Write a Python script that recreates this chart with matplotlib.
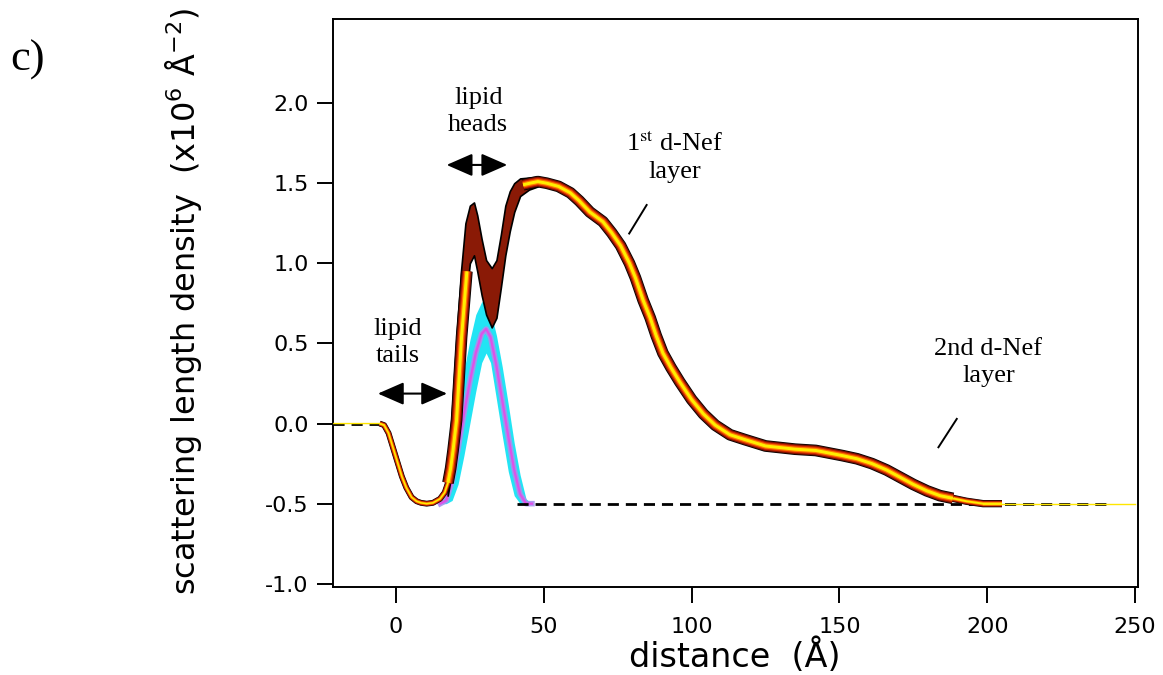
import numpy as np
import matplotlib
matplotlib.use('Agg')
import matplotlib.pyplot as plt

plt.rcParams['axes.unicode_minus'] = False
plt.rcParams['font.family'] = ['DejaVu Sans']

# total SLD profile (median of the ensemble), distance in A, SLD in 1e-6 A^-2
sld_x = [-21, -5.5, -4, -2.5, -1, 0.5, 2, 3.5, 5.3, 7, 8.5, 10.4, 12.5, 14.9, 16.5,
         17.6, 18.5, 19.3, 20.5, 22.2, 24, 25.3, 26.4, 27.5, 29, 30.5, 32.4, 34, 36.3,
         38, 39.5, 40.8, 43, 45.3, 48, 51, 55, 59, 62, 65.6, 70, 73, 76, 79, 81, 83.6,
         86, 88, 90.3, 93, 96, 100, 104, 108, 113, 118, 125, 135, 142, 151, 156, 161,
         166, 170.5, 175, 179.6, 184, 188.4, 193, 198.6, 205, 215, 250]
sld_y = [0, 0, -0.01, -0.06, -0.15, -0.24, -0.33, -0.40, -0.46, -0.485, -0.495, -0.5,
         -0.495, -0.47, -0.43, -0.37, -0.28, -0.17, 0.02, 0.54, 0.95, 1.18, 1.33, 1.25,
         1.05, 0.9, 0.8, 0.85, 1.06, 1.25, 1.37, 1.46, 1.49, 1.50, 1.51, 1.50, 1.48,
         1.44, 1.39, 1.32, 1.26, 1.19, 1.11, 1.0, 0.91, 0.77, 0.66, 0.55, 0.44, 0.35,
         0.26, 0.15, 0.06, -0.01, -0.07, -0.1, -0.14, -0.16, -0.168, -0.2, -0.22, -0.25,
         -0.29, -0.335, -0.38, -0.42, -0.45, -0.467, -0.485, -0.5, -0.5, -0.5, -0.5]

# spread of the ensemble around the lipid head region
band_x = [17.5, 19, 20.5, 22, 23.5, 25, 26.4, 27.5, 29, 30.5, 32.4, 34, 35.5, 37, 38.5, 40, 42, 45, 48]
band_hi = [-0.3, 0.1, 0.55, 0.95, 1.25, 1.36, 1.38, 1.3, 1.15, 1.02, 0.97, 1.02, 1.18, 1.36, 1.45, 1.5, 1.53, 1.535, 1.54]
band_lo = [-0.45, -0.3, -0.05, 0.35, 0.75, 1.0, 1.05, 0.95, 0.8, 0.68, 0.6, 0.66, 0.85, 1.05, 1.2, 1.32, 1.42, 1.46, 1.48]

# lipid head component
heads_x = [15, 17, 19, 21, 23, 25, 27, 29, 30.5, 32, 34, 36, 38, 40, 42, 44, 46]
heads_hi = [-0.5, -0.42, -0.2, 0.08, 0.33, 0.52, 0.68, 0.76, 0.76, 0.7, 0.55, 0.35, 0.12, -0.12, -0.32, -0.47, -0.5]
heads_lo = [-0.5, -0.5, -0.48, -0.38, -0.2, 0.0, 0.2, 0.38, 0.44, 0.38, 0.15, -0.08, -0.3, -0.45, -0.5, -0.5, -0.5]
heads_med = [-0.5, -0.48, -0.36, -0.16, 0.06, 0.26, 0.44, 0.56, 0.59, 0.54, 0.36, 0.14, -0.08, -0.29, -0.44, -0.5, -0.5]

# dashed reference levels
ref0_x, ref0_y = [-21.3, -4.5], [0, 0]
ref1_x, ref1_y = [41, 242], [-0.5, -0.5]

xticks = [0, 50, 100, 150, 200, 250]
yticks = [-1.0, -0.5, 0.0, 0.5, 1.0, 1.5, 2.0]

fig = plt.figure(figsize=(11.63, 6.75), dpi=100)
ax = fig.add_axes([0.2863, 0.1304, 0.6922, 0.8415])

x = np.array(sld_x, dtype=float)
y = np.array(sld_y, dtype=float)


def layered(xs, ys, k=1.0, z=3):
    for lw, c in [(7.0, 'black'), (6.0, '#7a1000'), (4.6, '#d42a00'),
                  (3.2, '#ff7a00'), (1.8, '#ffee00')]:
        ax.plot(xs, ys, color=c, lw=lw * k, solid_capstyle='butt',
                solid_joinstyle='round', zorder=z)


# heads component (behind)
ax.fill_between(heads_x, heads_lo, heads_hi, color='#22e4f4', lw=0, zorder=1.6)
ax.plot(heads_x, heads_med, color='#a890f0', lw=4, alpha=0.9, zorder=1.7)
ax.plot(heads_x, heads_med, color='#e050e8', lw=1.6, zorder=1.8)

# dashed baselines
ax.plot(ref0_x, ref0_y, color='black', lw=2, ls=(0, (4, 2.5)), zorder=2.5)
ax.plot(ref1_x, ref1_y, color='black', lw=2, ls=(0, (4, 2.5)), zorder=2.5)

# ensemble spread
ax.fill_between(band_x, band_lo, band_hi, color='#8a1a06', ec='black', lw=1.2, zorder=2.9)

dip = (x >= -5.5) & (x <= 19.3)
layered(x[dip], y[dip], k=0.6, z=3)
upper = np.where((x > 24.5) & (x < 41), np.nan, y)
keep = (x >= 17.6) & (x <= 188.4)
layered(x[keep], upper[keep], k=1.2, z=3.1)
tail = (x >= 184) & (x <= 205)
layered(x[tail], y[tail], k=0.75, z=3.05)
ax.plot(x[x <= -4], y[x <= -4], color='#ffe600', lw=1.0, zorder=5)
ax.plot(x[x >= 198], y[x >= 198], color='#ffe600', lw=1.0, zorder=5)

# annotations
serif = dict(family='Liberation Serif', fontsize=19, ha='center', va='center',
             linespacing=1.3, math_fontfamily='stix')
ax.text(0.7, 0.505, 'lipid\ntails', **serif)
ax.text(27.85, 1.95, 'lipid\nheads', **serif)
ax.text(94.2, 1.665, '1$^{\\rm st}$ d-Nef\nlayer', **serif)
ax.text(200.4, 0.383, '2nd d-Nef\nlayer', **serif)

arrow = dict(arrowstyle='<|-|>,head_length=0.8,head_width=0.35', color='black',
             lw=1.5, shrinkA=0, shrinkB=0, mutation_scale=20)
ax.annotate('', xy=(17.3, 0.187), xytext=(-6.1, 0.187), arrowprops=arrow)
ax.annotate('', xy=(37.65, 1.614), xytext=(17.15, 1.614), arrowprops=arrow)

ax.plot([84.8, 78.9], [1.364, 1.186], color='black', lw=1.4)
ax.plot([189.7, 183.5], [0.029, -0.148], color='black', lw=1.4)

ax.set_xlim(-21.3, 251)
ax.set_ylim(-1.02, 2.525)
ax.set_xticks(xticks)
ax.set_xticklabels([str(t) for t in xticks])
ax.set_yticks(yticks)
ax.set_yticklabels(['%.1f' % t for t in yticks])
ax.tick_params(direction='out', length=11.5, width=1.4, labelsize=16, colors='black')
ax.tick_params(axis='y', pad=6)
ax.tick_params(axis='x', pad=10)
for s in ax.spines.values():
    s.set_linewidth(1.4)

fig.text(184 / 1163, 1 - 302 / 675,
         'scattering length density  (x10$^{6}$ Å$^{\\mathsf{-2}}$)',
         rotation=90, ha='center', va='center', fontsize=23,
         math_fontfamily='dejavusans')
fig.text(735 / 1163, 1 - 656 / 675, 'distance  (Å)', ha='center', va='center', fontsize=24)
fig.text(28 / 1163, 1 - 60 / 675, 'c)', family='Liberation Serif', fontsize=32,
         ha='center', va='center')

fig.savefig('out.png', dpi=100)
